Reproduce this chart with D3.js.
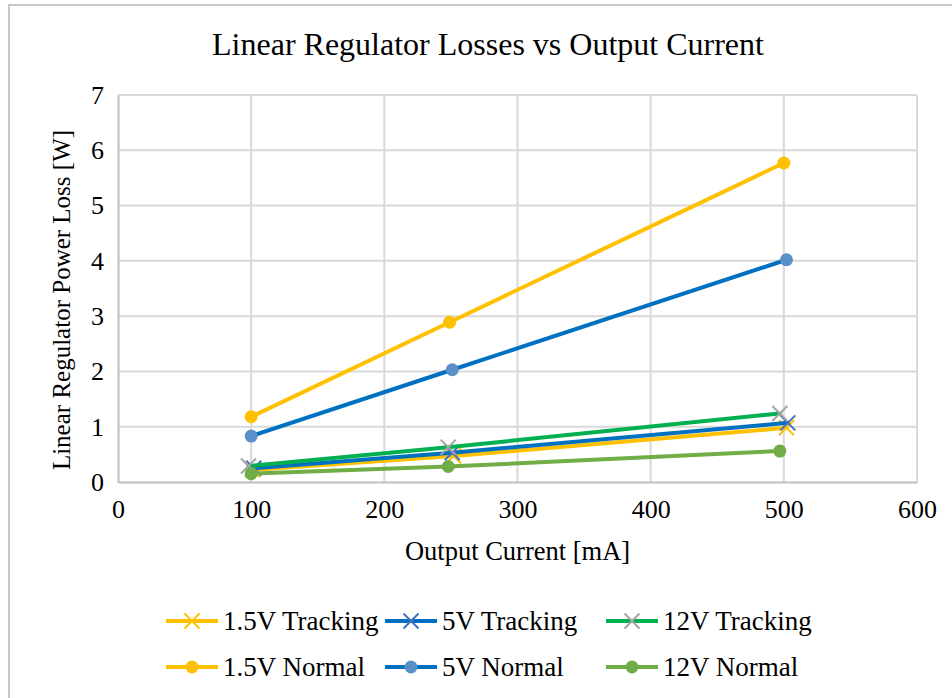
<!DOCTYPE html>
<html>
<head>
<meta charset="utf-8">
<script src="https://cdn.jsdelivr.net/npm/d3@7"></script>
<style>
  body { margin: 0; background: #fff; }
  svg text { font-family: "Liberation Serif", "Times New Roman", serif; fill: #000; }
</style>
</head>
<body>
<svg id="chart"></svg>
<script>
// series (x = output current mA, y = loss W)
const seriesNames = ['1.5V Tracking', '5V Tracking', '12V Tracking', '1.5V Normal', '5V Normal', '12V Normal'];
const track15X = [101, 252, 502];
const track15Y = [0.22, 0.47, 0.98];
const track5X = [102, 251, 503];
const track5Y = [0.25, 0.53, 1.07];
const track12X = [98, 248, 497];
const track12Y = [0.29, 0.63, 1.24];
const normal15X = [100, 249, 500];
const normal15Y = [1.18, 2.89, 5.77];
const normal5X = [100, 251, 502];
const normal5Y = [0.83, 2.03, 4.02];
const normal12X = [100, 248, 497];
const normal12Y = [0.15, 0.28, 0.56];
const xTicks = [0, 100, 200, 300, 400, 500, 600];
const yTicks = [0, 1, 2, 3, 4, 5, 6, 7];

const serif = '"Liberation Serif", "Times New Roman", serif';

class LineChart {

  constructor(_config, _data) {
    this.config = {
      parentElement: _config.parentElement,
      containerWidth: _config.containerWidth || 952,
      containerHeight: _config.containerHeight || 698,
      margin: _config.margin || { top: 95, right: 35, bottom: 216, left: 118 }
    };
    this.data = _data;
    this.initVis();
  }

  initVis() {
    let vis = this;

    vis.width = vis.config.containerWidth - vis.config.margin.left - vis.config.margin.right;
    vis.height = vis.config.containerHeight - vis.config.margin.top - vis.config.margin.bottom;

    vis.xScale = d3.scaleLinear().domain([0, 600]).range([0, vis.width]);
    vis.yScale = d3.scaleLinear().domain([0, 7]).range([vis.height, 0]);

    vis.xAxis = d3.axisBottom(vis.xScale).tickValues(xTicks).tickFormat(d3.format('d')).tickSize(0).tickPadding(14);
    vis.yAxis = d3.axisLeft(vis.yScale).tickValues(yTicks).tickFormat(d3.format('d')).tickSize(0).tickPadding(14);

    vis.svg = d3.select(vis.config.parentElement)
      .attr('width', vis.config.containerWidth)
      .attr('height', vis.config.containerHeight);

    // outer chart border
    vis.svg.append('rect')
      .attr('x', 9).attr('y', 5)
      .attr('width', 960).attr('height', 720)
      .attr('fill', 'none')
      .attr('stroke', '#ababab')
      .attr('stroke-width', 1.3);

    vis.svg.append('text')
      .attr('x', 488).attr('y', 55)
      .attr('text-anchor', 'middle')
      .style('font-size', '32px')
      .text('Linear Regulator Losses vs Output Current');

    vis.chart = vis.svg.append('g')
      .attr('transform', `translate(${vis.config.margin.left},${vis.config.margin.top})`);

    // gridlines
    vis.chart.append('g').selectAll('line.hgrid')
      .data(yTicks.slice(1))
      .join('line')
      .attr('x1', 0).attr('x2', vis.width)
      .attr('y1', d => vis.yScale(d)).attr('y2', d => vis.yScale(d))
      .attr('stroke', '#d9d9d9').attr('stroke-width', 2);

    vis.chart.append('g').selectAll('line.vgrid')
      .data(xTicks.slice(1))
      .join('line')
      .attr('x1', d => vis.xScale(d)).attr('x2', d => vis.xScale(d))
      .attr('y1', 0).attr('y2', vis.height)
      .attr('stroke', '#d9d9d9').attr('stroke-width', 2);

    vis.xAxisG = vis.chart.append('g')
      .attr('class', 'axis x-axis')
      .attr('transform', `translate(0,${vis.height})`);

    vis.yAxisG = vis.chart.append('g')
      .attr('class', 'axis y-axis');

    vis.svg.append('text')
      .attr('transform', 'translate(70,300) rotate(-90)')
      .attr('text-anchor', 'middle')
      .style('font-size', '25px')
      .text('Linear Regulator Power Loss [W]');

    vis.svg.append('text')
      .attr('x', vis.config.margin.left + vis.width / 2).attr('y', 560)
      .attr('text-anchor', 'middle')
      .style('font-size', '26.5px')
      .text('Output Current [mA]');

    vis.legend = vis.svg.append('g').attr('class', 'legend');
  }

  updateVis() {
    let vis = this;
    vis.line = d3.line()
      .x(d => vis.xScale(d[0]))
      .y(d => vis.yScale(d[1]));
    vis.renderVis();
  }

  drawMarker(g, s, cx, cy) {
    if (s.marker === 'x') {
      const r = 7.5;
      g.append('path')
        .attr('d', `M${cx - r},${cy - r}L${cx + r},${cy + r}M${cx - r},${cy + r}L${cx + r},${cy - r}`)
        .attr('stroke', s.markerColor).attr('stroke-width', 2).attr('fill', 'none');
    } else {
      g.append('circle')
        .attr('cx', cx).attr('cy', cy).attr('r', 6.5)
        .attr('fill', s.markerColor);
    }
  }

  renderVis() {
    let vis = this;

    vis.xAxisG.call(vis.xAxis).attr('font-family', null).attr('font-size', null);
    vis.yAxisG.call(vis.yAxis).attr('font-family', null).attr('font-size', null);
    vis.chart.selectAll('.axis .domain')
      .attr('stroke', '#bfbfbf').attr('stroke-width', 2);
    vis.chart.selectAll('.axis text')
      .style('font-family', serif)
      .style('font-size', '26px');
    vis.xAxisG.selectAll('text').attr('dy', '0.85em');

    const series = vis.chart.selectAll('g.series')
      .data(vis.data)
      .join('g')
      .attr('class', 'series');

    series.append('path')
      .attr('d', d => vis.line(d.points))
      .attr('fill', 'none')
      .attr('stroke', d => d.color)
      .attr('stroke-width', 4)
      .attr('stroke-linecap', 'round');

    series.each(function(s) {
      const g = d3.select(this);
      s.points.forEach(p => vis.drawMarker(g, s, vis.xScale(p[0]), vis.yScale(p[1])));
    });

    // legend, 3 columns x 2 rows
    const colX = [166, 385, 606];
    const rowY = [621, 667];
    vis.data.forEach((s, i) => {
      const x = colX[i % 3], y = rowY[Math.floor(i / 3)];
      const g = vis.legend.append('g');
      g.append('line')
        .attr('x1', x).attr('x2', x + 52)
        .attr('y1', y).attr('y2', y)
        .attr('stroke', s.color).attr('stroke-width', 4);
      vis.drawMarker(g, s, x + 26, y);
      g.append('text')
        .attr('x', x + 57).attr('y', y)
        .attr('dy', '0.34em')
        .style('font-size', '27px')
        .text(s.name);
    });
  }
}

const zipPts = (xs, ys) => xs.map((x, i) => [x, ys[i]]);
const chartData = [
  { name: seriesNames[0], points: zipPts(track15X, track15Y), color: '#ffc000', markerColor: '#ffc000', marker: 'x' },
  { name: seriesNames[1], points: zipPts(track5X, track5Y), color: '#0070c0', markerColor: '#4472c4', marker: 'x' },
  { name: seriesNames[2], points: zipPts(track12X, track12Y), color: '#00b050', markerColor: '#a5a5a5', marker: 'x' },
  { name: seriesNames[3], points: zipPts(normal15X, normal15Y), color: '#ffc000', markerColor: '#ffc000', marker: 'o' },
  { name: seriesNames[4], points: zipPts(normal5X, normal5Y), color: '#0070c0', markerColor: '#5b8fc8', marker: 'o' },
  { name: seriesNames[5], points: zipPts(normal12X, normal12Y), color: '#70ad47', markerColor: '#70ad47', marker: 'o' }
];

const chart = new LineChart({ parentElement: '#chart' }, chartData);
chart.updateVis();
</script>
</body>
</html>
